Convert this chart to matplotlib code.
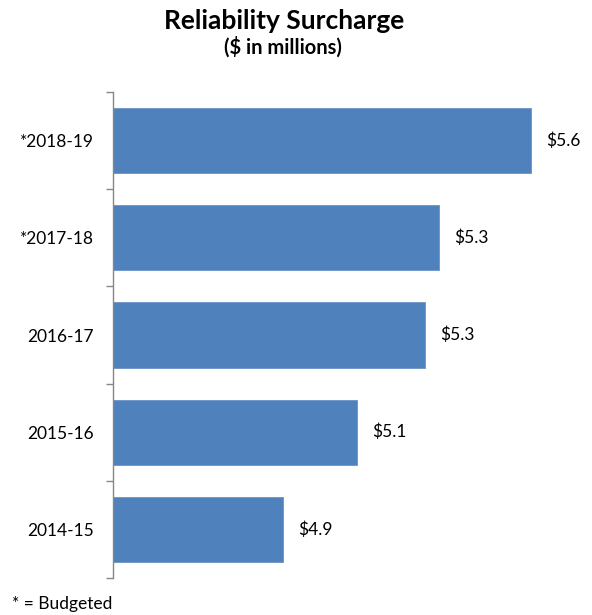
import numpy as np
import matplotlib.pyplot as plt

plt.rcParams['font.family'] = ['Lato', 'DejaVu Sans']

years = ["2014-15", "2015-16", "2016-17", "*2017-18", "*2018-19"]
surcharge = [4.90, 5.11, 5.30, 5.34, 5.60]   # $ millions

fig = plt.figure(figsize=(5.92, 6.15), dpi=100)
ax = fig.add_axes([113/592, 37/615, 462/592, 486/615])

y = np.arange(len(years))
ax.barh(y, surcharge, height=0.67, color="#4F81BD", edgecolor="#6C93C6", linewidth=0.6)

for yi, v in zip(y, surcharge):
    ax.text(v + 0.043, yi, f"${v:.1f}", va="center", ha="left", fontsize=12.5)

ax.set_xlim(4.42, 4.42 + 462/354)
ax.set_ylim(-0.5, len(years) - 0.5)
ax.set_xticks([])
ax.set_yticks(y)
ax.set_yticklabels(years, fontsize=12.5)
ax.tick_params(axis="y", which="major", length=0, pad=14)
ax.set_yticks(np.arange(-0.5, len(years)), minor=True)
ax.tick_params(axis="y", which="minor", length=5, width=1, color="#868686", direction="out")

for side in ["top", "right", "bottom"]:
    ax.spines[side].set_visible(False)
ax.spines["left"].set_color("#868686")
ax.spines["left"].set_linewidth(1)

fig.text(0.48, 1 - 21/615, "Reliability Surcharge", ha="center", va="center",
         fontsize=19, fontweight="bold")
fig.text(0.478, 1 - 47/615, "($ in millions)", ha="center", va="center",
         fontsize=14.5, fontweight="bold")
fig.text(12/592, 11/615, "* = Budgeted", ha="left", va="center", fontsize=12.5)

fig.savefig("out.png", dpi=100)
